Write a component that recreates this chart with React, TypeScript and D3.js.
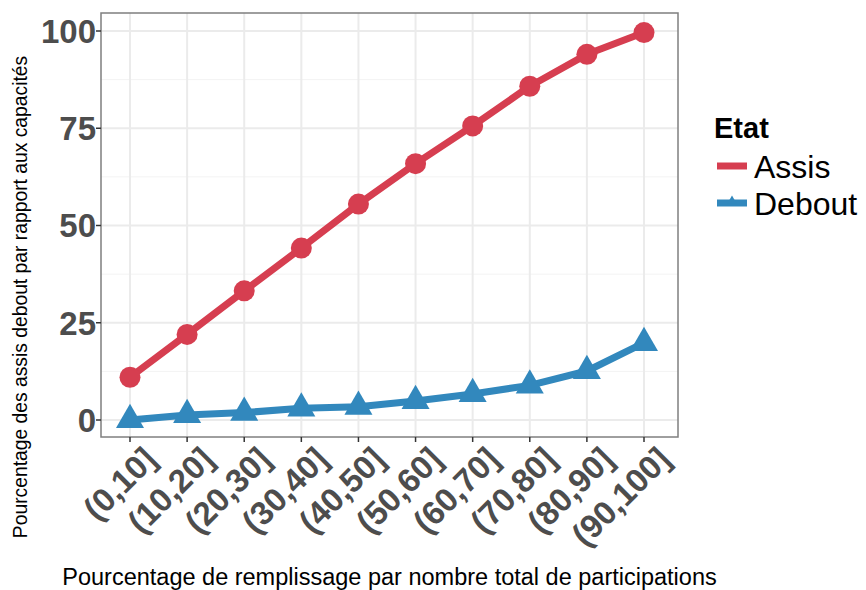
import React from "react";
import * as d3 from "d3";

const categories = ["(0,10]", "(10,20]", "(20,30]", "(30,40]", "(40,50]", "(50,60]", "(60,70]", "(70,80]", "(80,90]", "(90,100]"];
const assis = [11.0, 22.0, 33.2, 44.2, 55.5, 65.9, 75.6, 85.8, 94.0, 99.6];
const debout = [0.0, 1.3, 1.9, 3.0, 3.4, 4.9, 6.7, 8.9, 12.6, 19.8];
const yTicks = [0, 25, 50, 75, 100];
const legendTitle = "Etat";
const seriesNames = ["Assis", "Debout"];

const W = 866, H = 590;
const RED = "#d63e50";
const BLUE = "#3288bd";
const FONT = "'Liberation Sans', Arial, sans-serif";

export default function App() {
  const left = 101, right = 678, top = 13, bottom = 437;
  const x = d3.scalePoint<string>().domain(categories).range([130, 644]);
  const y = d3.scaleLinear().domain([0, 100]).range([420, 31]);
  const minor = [12.5, 37.5, 62.5, 87.5];
  const line = d3.line<number>().x((_, i) => x(categories[i])!).y((d) => y(d));
  const tri = d3.symbol().type(d3.symbolTriangle).size(340)();
  const triSmall = d3.symbol().type(d3.symbolTriangle).size(40)();
  return (
    <svg width={W} height={H} style={{ position: "absolute", left: 0, top: 0, background: "#fff" }} fontFamily={FONT}>
      <rect x={0} y={0} width={W} height={H} fill="#fff" />
      {/* grid */}
      {minor.map((v) => (
        <line key={"mn" + v} x1={left} x2={right} y1={y(v)} y2={y(v)} stroke="#f3f3f3" strokeWidth={1} />
      ))}
      {yTicks.map((v) => (
        <line key={"mj" + v} x1={left} x2={right} y1={y(v)} y2={y(v)} stroke="#ebebeb" strokeWidth={2} />
      ))}
      {categories.map((c) => (
        <line key={"gx" + c} x1={x(c)} x2={x(c)} y1={top} y2={bottom} stroke="#ebebeb" strokeWidth={2} />
      ))}
      {/* series */}
      <path d={line(assis)!} fill="none" stroke={RED} strokeWidth={7} strokeLinejoin="round" />
      {assis.map((v, i) => (
        <circle key={"a" + i} cx={x(categories[i])} cy={y(v)} r={10.5} fill={RED} />
      ))}
      <path d={line(debout)!} fill="none" stroke={BLUE} strokeWidth={7} strokeLinejoin="round" />
      {debout.map((v, i) => (
        <path key={"d" + i} d={tri!} transform={`translate(${x(categories[i])},${y(v)})`} fill={BLUE} />
      ))}
      {/* border */}
      <rect x={left} y={top} width={right - left} height={bottom - top} fill="none" stroke="#7f7f7f" strokeWidth={1.5} />
      {/* y axis */}
      {yTicks.map((v) => (
        <g key={"yt" + v}>
          <line x1={left - 5} x2={left} y1={y(v)} y2={y(v)} stroke="#333" strokeWidth={1.5} />
          <text x={left - 5} y={y(v)} dy="0.36em" textAnchor="end" fontSize={33} fontWeight="bold" fill="#4d4d4d">
            {v}
          </text>
        </g>
      ))}
      {/* x axis */}
      {categories.map((c) => (
        <g key={"xt" + c}>
          <line x1={x(c)} x2={x(c)} y1={bottom} y2={bottom + 5} stroke="#333" strokeWidth={1.5} />
          <text
            transform={`translate(${x(c)! + 12},${bottom + 8}) rotate(-45)`}
            textAnchor="end"
            dy="0.7em"
            fontSize={33}
            fontWeight="bold"
            fill="#4d4d4d"
          >
            {c}
          </text>
        </g>
      ))}
      <text x={(left + right) / 2} y={585} textAnchor="middle" fontSize={23.5} fill="#000">
        Pourcentage de remplissage par nombre total de participations
      </text>
      <text transform={`translate(27,297) rotate(-90)`} textAnchor="middle" fontSize={19.3} fill="#000">
        Pourcentage des assis debout par rapport aux capacités
      </text>
      {/* legend */}
      <text x={714} y={138} fontSize={29} fontWeight="bold" fill="#000">
        {legendTitle}
      </text>
      <line x1={717} x2={747} y1={166} y2={166} stroke={RED} strokeWidth={7} />
      <circle cx={732} cy={166} r={2} fill={RED} />
      <text x={754} y={178} fontSize={32} fill="#000">{seriesNames[0]}</text>
      <line x1={717} x2={747} y1={203} y2={203} stroke={BLUE} strokeWidth={7} />
      <path d={triSmall!} transform="translate(732,201)" fill={BLUE} />
      <text x={754} y={215} fontSize={32} fill="#000">{seriesNames[1]}</text>
    </svg>
  );
}
